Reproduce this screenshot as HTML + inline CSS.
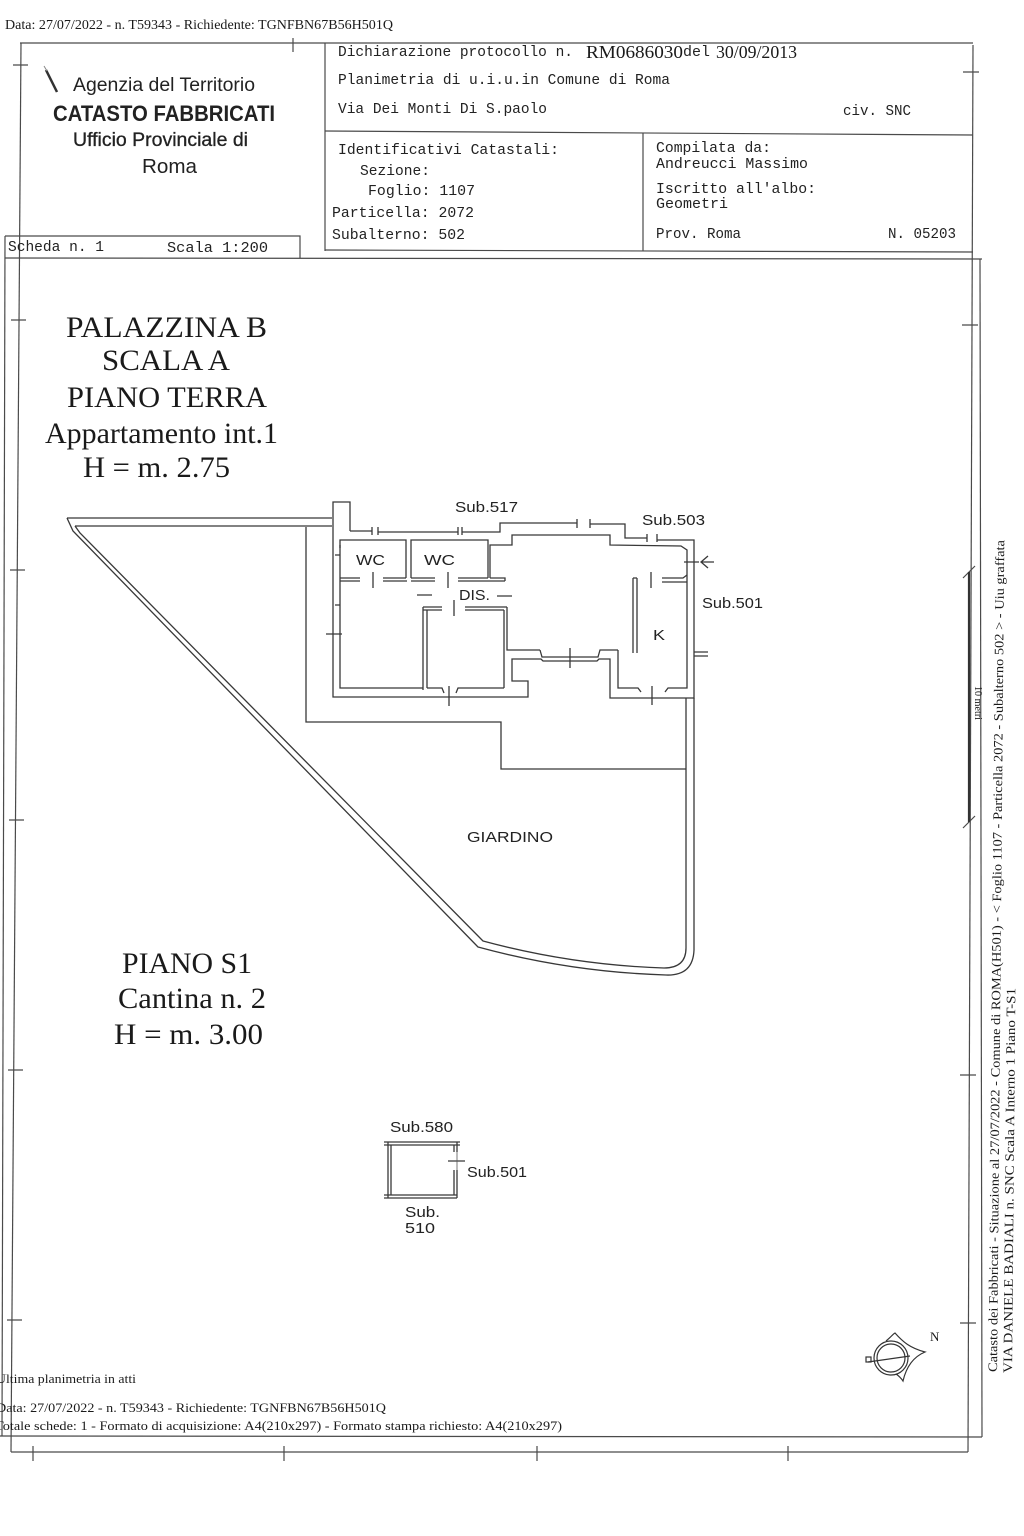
<!DOCTYPE html>
<html><head><meta charset="utf-8"><style>
html,body{margin:0;padding:0;background:#fff;}
svg{display:block;}
.m{font-family:"Liberation Mono",monospace;font-size:14.5px;fill:#222;}
.s{font-family:"Liberation Serif",serif;fill:#1a1a1a;}
.a{font-family:"Liberation Sans",sans-serif;fill:#222;}
.l{stroke:#383838;stroke-width:1.3;fill:none;}
.f{stroke:#4a4a4a;stroke-width:1.2;fill:none;}
</style></head><body>
<svg width="1024" height="1536" viewBox="0 0 1024 1536" xmlns="http://www.w3.org/2000/svg">
<rect width="1024" height="1536" fill="#fff"/>

<!-- top header text -->
<text x="5" y="29" class="s" font-size="14" textLength="388" lengthAdjust="spacingAndGlyphs">Data: 27/07/2022 - n. T59343 - Richiedente: TGNFBN67B56H501Q</text>

<!-- frames -->
<g class="f">
<path d="M20,43 H325"/>
<path d="M293,38 V52"/>
<path d="M21,43 L11,1452"/>
<path d="M11,1452 H968"/>
<path d="M973,45 L968,1452"/>
<path d="M325,43 H973"/>
<path d="M325,43 V251"/>
<path d="M325,131 L973,135"/>
<path d="M643,133 V251"/>
<path d="M325,250 L973,252"/>
<path d="M5,236 H300 V258"/>
<path d="M5,236 L2,1436"/>
<path d="M5,258 L982,259"/>
<path d="M980,259 L982,1437"/>
<path d="M0,1436 L982,1437"/>
<!-- left ticks -->
<path d="M13,65 H28 M11,320 H26 M10,570 H25 M9,820 H24 M8,1070 H23 M7,1320 H22"/>
<!-- right ticks -->
<path d="M963,72 H979 M962,325 H978 M960,1075 H976 M960,1323 H976"/>
<path d="M963,578 L975,566 M963,828 L975,816"/>
<!-- bottom ticks -->
<path d="M33,1446 V1461 M284,1446 V1461 M537,1446 V1461 M788,1446 V1461"/>
</g>
<path d="M969,572 V822" stroke="#333" stroke-width="2.2"/>
<text transform="translate(975,686) rotate(90)" class="s" font-size="10" textLength="34" lengthAdjust="spacingAndGlyphs">10 metri</text>

<!-- logo -->
<path d="M46,70 L57,92" stroke="#333" stroke-width="2.5"/>
<path d="M44,66 L47,71" stroke="#888" stroke-width="1"/>
<text x="73" y="91" class="a" font-size="19" textLength="182" lengthAdjust="spacingAndGlyphs">Agenzia del Territorio</text>
<text x="53" y="121" class="a" font-size="22" font-weight="bold" textLength="222" lengthAdjust="spacingAndGlyphs">CATASTO FABBRICATI</text>
<text x="73" y="146" class="a" font-size="19" stroke="#222" stroke-width="0.3" textLength="175" lengthAdjust="spacingAndGlyphs">Ufficio Provinciale di</text>
<text x="142" y="173" class="a" font-size="20" textLength="55" lengthAdjust="spacingAndGlyphs">Roma</text>

<!-- header right box text -->
<text x="338" y="56" class="m" textLength="235" lengthAdjust="spacingAndGlyphs">Dichiarazione protocollo n.</text>
<text x="586" y="58" class="s" font-size="18" textLength="97" lengthAdjust="spacingAndGlyphs">RM0686030</text>
<text x="683" y="56" class="m" textLength="27" lengthAdjust="spacingAndGlyphs">del</text>
<text x="716" y="58" class="s" font-size="18" textLength="81" lengthAdjust="spacingAndGlyphs">30/09/2013</text>
<text x="338" y="84" class="m" textLength="332" lengthAdjust="spacingAndGlyphs">Planimetria di u.i.u.in Comune di Roma</text>
<text x="338" y="113" class="m" textLength="209" lengthAdjust="spacingAndGlyphs">Via Dei Monti Di S.paolo</text>
<text x="843" y="115" class="m" textLength="68" lengthAdjust="spacingAndGlyphs">civ. SNC</text>
<text x="338" y="154" class="m" textLength="221" lengthAdjust="spacingAndGlyphs">Identificativi Catastali:</text>
<text x="360" y="175" class="m" textLength="70" lengthAdjust="spacingAndGlyphs">Sezione:</text>
<text x="368" y="195" class="m" textLength="107" lengthAdjust="spacingAndGlyphs">Foglio: 1107</text>
<text x="332" y="217" class="m" textLength="142" lengthAdjust="spacingAndGlyphs">Particella: 2072</text>
<text x="332" y="239" class="m" textLength="133" lengthAdjust="spacingAndGlyphs">Subalterno: 502</text>
<text x="656" y="152" class="m" textLength="115" lengthAdjust="spacingAndGlyphs">Compilata da:</text>
<text x="656" y="168" class="m" textLength="152" lengthAdjust="spacingAndGlyphs">Andreucci Massimo</text>
<text x="656" y="193" class="m" textLength="160" lengthAdjust="spacingAndGlyphs">Iscritto all'albo:</text>
<text x="656" y="208" class="m" textLength="72" lengthAdjust="spacingAndGlyphs">Geometri</text>
<text x="656" y="238" class="m" textLength="85" lengthAdjust="spacingAndGlyphs">Prov. Roma</text>
<text x="888" y="238" class="m" textLength="68" lengthAdjust="spacingAndGlyphs">N. 05203</text>
<text x="8" y="251" class="m" textLength="96" lengthAdjust="spacingAndGlyphs">Scheda n. 1</text>
<text x="167" y="252" class="m" textLength="101" lengthAdjust="spacingAndGlyphs">Scala 1:200</text>

<!-- big labels -->
<g class="s" font-size="30">
<text x="66" y="337" textLength="201" lengthAdjust="spacingAndGlyphs">PALAZZINA B</text>
<text x="102" y="370" textLength="128" lengthAdjust="spacingAndGlyphs">SCALA A</text>
<text x="67" y="407" textLength="200" lengthAdjust="spacingAndGlyphs">PIANO TERRA</text>
<text x="45" y="443" textLength="233" lengthAdjust="spacingAndGlyphs">Appartamento int.1</text>
<text x="83" y="477" textLength="147" lengthAdjust="spacingAndGlyphs">H = m. 2.75</text>
<text x="122" y="973" textLength="130" lengthAdjust="spacingAndGlyphs">PIANO S1</text>
<text x="118" y="1008" textLength="148" lengthAdjust="spacingAndGlyphs">Cantina n. 2</text>
<text x="114" y="1044" textLength="149" lengthAdjust="spacingAndGlyphs">H = m. 3.00</text>
</g>

<!-- garden -->
<path class="l" d="M67,518 H332 M75,526 H332"/>
<path class="l" d="M67,518 L73,531 L478,947 Q570,972 666,975 Q693,976 694,950 L694,698"/>
<path class="l" d="M75,526 L80,533 L483,941 Q572,965 664,968 Q686,968 686,948 L686,698"/>
<path class="l" stroke-width="1.1" d="M306,527 V722 H501 V769 H686"/>

<!-- building outer -->
<path class="l" d="M350,531 V502 H333 V697 H528 V681 H512 V659 H541 L543,661 H597 L599,659 H610 V698 H694 V540 H657"/>
<path class="l" d="M350,531 H372 M378,532 H458 M462,532 H500 V523 H577 M590,524 H623 L625,524 V538 H647"/>
<path class="l" stroke-width="1" d="M372,527 V535 M378,527 V535 M458,527 V535 M462,527 V535 M577,519 V528 M590,519 V528 M647,534 V542 M657,534 V542"/>

<!-- building inner -->
<path class="l" d="M340,548 V540 H406 V578 M411,578 V540 H488 V578 M490,578 V545 H512 V535 H610 V545 L681,546 L687,550 V688 H668 L665,692 M641,692 L638,688 H618 V650"/>
<path class="l" d="M340,545 V688 H423"/>
<path class="l" d="M335,555 H340 M335,605 H340 M326,634 H342"/>
<!-- wall below WCs -->
<path class="l" d="M340,578 H360 M340,581 H360 M383,578 H406 M383,581 H407 M411,578 H435 M411,581 H435 M458,578 H488 M458,581 H505 M490,578 H505 V581"/>
<path class="l" d="M373,572 V588 M448,572 V588 M417,595 H432 M497,596 H512"/>
<!-- middle bedroom -->
<path class="l" d="M423,607 H442 M423,610 H442 M465,607 H507 M465,610 H504 M454,600 V616"/>
<path class="l" d="M423,607 V690 M427,610 V688 M507,607 V650 H540 M504,610 V688"/>
<path class="l" d="M427,688 H442 L444,693 M456,693 L458,688 H504 M449,686 V706"/>
<!-- living bottom -->
<path class="l" d="M540,650 L542,657 H598 L600,650 H618 M570,648 V668"/>
<!-- K room -->
<path class="l" d="M633,578 V653 M637,578 V653 M633,578 H637 M662,578 H683 L687,575 M662,582 H687 M651,572 V588 M652,686 V705"/>
<path class="l" d="M684,562 H699 M708,556 L701,562 L708,568 M701,562 H714 M694,652 H708 M694,656 H708"/>

<!-- plan labels -->
<g class="a" font-size="15">
<text x="455" y="512" textLength="63" lengthAdjust="spacingAndGlyphs">Sub.517</text>
<text x="642" y="525" textLength="63" lengthAdjust="spacingAndGlyphs">Sub.503</text>
<text x="702" y="608" textLength="61" lengthAdjust="spacingAndGlyphs">Sub.501</text>
<text x="653" y="640" textLength="12" lengthAdjust="spacingAndGlyphs">K</text>
<text x="356" y="565" textLength="29" lengthAdjust="spacingAndGlyphs">WC</text>
<text x="424" y="565" textLength="31" lengthAdjust="spacingAndGlyphs">WC</text>
<text x="459" y="600" textLength="31" lengthAdjust="spacingAndGlyphs">DIS.</text>
<text x="467" y="842" textLength="86" lengthAdjust="spacingAndGlyphs">GIARDINO</text>
<text x="390" y="1132" textLength="63" lengthAdjust="spacingAndGlyphs">Sub.580</text>
<text x="467" y="1177" textLength="60" lengthAdjust="spacingAndGlyphs">Sub.501</text>
<text x="405" y="1217" textLength="35" lengthAdjust="spacingAndGlyphs">Sub.</text>
<text x="405" y="1233" textLength="30" lengthAdjust="spacingAndGlyphs">510</text>
</g>

<!-- cantina -->
<path class="l" d="M384,1142 H460 M384,1145 H460 M388,1142 V1198 M391,1145 V1195 M384,1195 H457 M384,1198 H457 M454,1145 V1152 M457,1142 V1152 M454,1170 V1195 M457,1170 V1198 M448,1161 H465"/>
<path stroke="#555" stroke-width="0.8" d="M457,1152 V1170"/>

<!-- compass -->
<g fill="none" stroke="#333" stroke-width="1.2">
<circle cx="891" cy="1358" r="17"/>
<circle cx="891" cy="1358" r="14"/>
<path d="M886,1341 C891,1337 893,1334 895,1333 C903,1342 910,1348 925,1352 C913,1357 906,1368 903,1381 C901,1378 899,1376 896,1374"/>
<path d="M868,1362 L910,1356"/>
<rect x="866" y="1357" width="5" height="5"/>
</g>
<text x="930" y="1341" class="s" font-size="13">N</text>

<!-- bottom texts -->
<text x="-4" y="1383" class="s" font-size="13" textLength="140" lengthAdjust="spacingAndGlyphs">Ultima planimetria in atti</text>
<text x="-4" y="1412" class="s" font-size="13" textLength="390" lengthAdjust="spacingAndGlyphs">Data: 27/07/2022 - n. T59343 - Richiedente: TGNFBN67B56H501Q</text>
<text x="-5" y="1430" class="s" font-size="13" textLength="567" lengthAdjust="spacingAndGlyphs">Totale schede: 1 - Formato di acquisizione: A4(210x297)  - Formato stampa richiesto: A4(210x297)</text>

<!-- vertical texts -->
<text transform="translate(997,1372) rotate(-89.5)" class="s" font-size="13" textLength="832" lengthAdjust="spacingAndGlyphs">Catasto dei Fabbricati - Situazione al 27/07/2022 - Comune di ROMA(H501) - &lt; Foglio 1107 - Particella 2072 - Subalterno 502 &gt; - Uiu graffata</text>
<text transform="translate(1012,1373) rotate(-89.5)" class="s" font-size="13" textLength="385" lengthAdjust="spacingAndGlyphs">VIA DANIELE BADIALI n. SNC  Scala A Interno 1 Piano T-S1</text>
</svg>
</body></html>
